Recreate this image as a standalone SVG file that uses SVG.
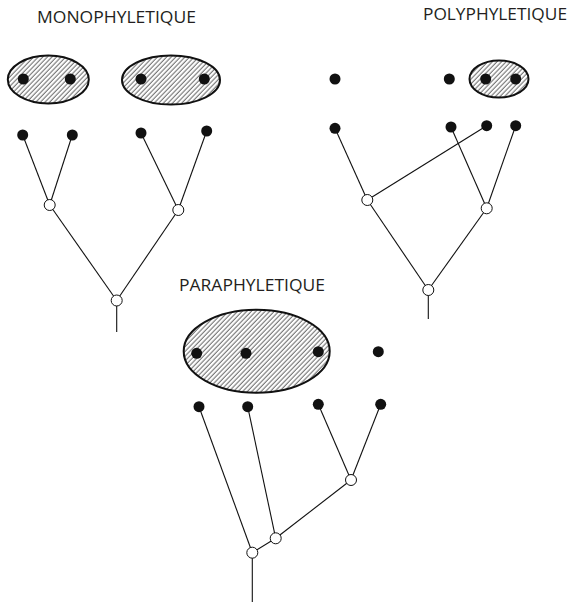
<svg xmlns="http://www.w3.org/2000/svg" width="570" height="603" viewBox="0 0 570 603">
<defs>
<pattern id="hatch" patternUnits="userSpaceOnUse" width="3.3" height="10" patternTransform="rotate(44)">
<line x1="1" y1="0" x2="1" y2="10" stroke="#1a1a1a" stroke-width="0.75"/>
</pattern>
</defs>
<style>
.t{font-family:"Open Sans","Liberation Sans",sans-serif;font-size:16.5px;fill:#231f20}
.grp{fill:url(#hatch);stroke:#111;stroke-width:2}
.leaf{fill:#111}
.nd{fill:#fff;stroke:#111;stroke-width:1}
.e{stroke:#111;stroke-width:1.1;fill:none}
</style>
<rect width="570" height="603" fill="#fff"/>
<text class="t" x="37" y="23" textLength="159" lengthAdjust="spacingAndGlyphs">MONOPHYLETIQUE</text>
<text class="t" x="423" y="20" textLength="144" lengthAdjust="spacingAndGlyphs">POLYPHYLETIQUE</text>
<text class="t" x="179" y="291" textLength="146" lengthAdjust="spacingAndGlyphs">PARAPHYLETIQUE</text>

<g id="connectors">
<line class="e" x1="22.7" y1="135" x2="49.7" y2="205"/>
<line class="e" x1="72.3" y1="135" x2="49.7" y2="205"/>
<line class="e" x1="141" y1="133" x2="178.3" y2="210"/>
<line class="e" x1="206.7" y1="131" x2="178.3" y2="210"/>
<line class="e" x1="49.7" y1="205" x2="116.7" y2="300.5"/>
<line class="e" x1="178.3" y1="210" x2="116.7" y2="300.5"/>
<line class="e" x1="116.7" y1="300.5" x2="116.7" y2="332"/>

<line class="e" x1="335" y1="128.3" x2="367.3" y2="200"/>
<line class="e" x1="486.7" y1="125.7" x2="367.3" y2="200"/>
<line class="e" x1="451" y1="127" x2="486.7" y2="208.3"/>
<line class="e" x1="515.7" y1="125.7" x2="486.7" y2="208.3"/>
<line class="e" x1="367.3" y1="200" x2="428.3" y2="290"/>
<line class="e" x1="486.7" y1="208.3" x2="428.3" y2="290"/>
<line class="e" x1="428.3" y1="290" x2="428.3" y2="319"/>

<line class="e" x1="318.3" y1="404.3" x2="351" y2="480"/>
<line class="e" x1="380.7" y1="404.3" x2="351" y2="480"/>
<line class="e" x1="351" y1="480" x2="275.7" y2="538.3"/>
<line class="e" x1="247.7" y1="406.7" x2="275.7" y2="538.3"/>
<line class="e" x1="199" y1="406.7" x2="252.3" y2="552.7"/>
<line class="e" x1="275.7" y1="538.3" x2="252.3" y2="552.7"/>
<line class="e" x1="252.3" y1="552.7" x2="252.3" y2="602"/>
</g>

<g id="mono-group1">
<ellipse class="grp" cx="48.3" cy="79.5" rx="40.5" ry="24"/>
<circle class="leaf" cx="23.3" cy="79" r="5.5"/>
<circle class="leaf" cx="70.3" cy="79" r="5.5"/>
</g>
<g id="mono-group2">
<ellipse class="grp" cx="171" cy="80" rx="49" ry="24.5"/>
<circle class="leaf" cx="141" cy="79" r="5.5"/>
<circle class="leaf" cx="204.3" cy="79" r="5.5"/>
</g>
<g id="mono-leaves">
<circle class="leaf" cx="22.7" cy="135" r="5.5"/>
<circle class="leaf" cx="72.3" cy="135" r="5.5"/>
<circle class="leaf" cx="141" cy="133" r="5.5"/>
<circle class="leaf" cx="206.7" cy="131" r="5.5"/>
</g>
<g id="mono-nodes">
<circle class="nd" cx="49.7" cy="205" r="5.5"/>
<circle class="nd" cx="178.3" cy="210" r="5.5"/>
<circle class="nd" cx="116.7" cy="300.5" r="5.5"/>
</g>

<g id="poly-top">
<circle class="leaf" cx="335" cy="79" r="5.5"/>
<circle class="leaf" cx="449.3" cy="79" r="5.5"/>
</g>
<g id="poly-group">
<ellipse class="grp" cx="499" cy="79" rx="29.5" ry="18.5"/>
<circle class="leaf" cx="485.7" cy="79" r="5.5"/>
<circle class="leaf" cx="515.7" cy="79" r="5.5"/>
</g>
<g id="poly-leaves">
<circle class="leaf" cx="335" cy="128.3" r="5.5"/>
<circle class="leaf" cx="451" cy="127" r="5.5"/>
<circle class="leaf" cx="486.7" cy="125.7" r="5.5"/>
<circle class="leaf" cx="515.7" cy="125.7" r="5.5"/>
</g>
<g id="poly-nodes">
<circle class="nd" cx="367.3" cy="200" r="5.5"/>
<circle class="nd" cx="486.7" cy="208.3" r="5.5"/>
<circle class="nd" cx="428.3" cy="290" r="5.5"/>
</g>

<g id="para-group">
<ellipse class="grp" cx="256.7" cy="351.3" rx="73" ry="41.5"/>
<circle class="leaf" cx="196.7" cy="353.3" r="5.5"/>
<circle class="leaf" cx="246" cy="353.3" r="5.5"/>
<circle class="leaf" cx="318.3" cy="351.7" r="5.5"/>
</g>
<g id="para-top">
<circle class="leaf" cx="378.3" cy="351.7" r="5.5"/>
</g>
<g id="para-leaves">
<circle class="leaf" cx="199" cy="406.7" r="5.5"/>
<circle class="leaf" cx="247.7" cy="406.7" r="5.5"/>
<circle class="leaf" cx="318.3" cy="404.3" r="5.5"/>
<circle class="leaf" cx="380.7" cy="404.3" r="5.5"/>
</g>
<g id="para-nodes">
<circle class="nd" cx="351" cy="480" r="5.5"/>
<circle class="nd" cx="275.7" cy="538.3" r="5.5"/>
<circle class="nd" cx="252.3" cy="552.7" r="5.5"/>
</g>
</svg>
